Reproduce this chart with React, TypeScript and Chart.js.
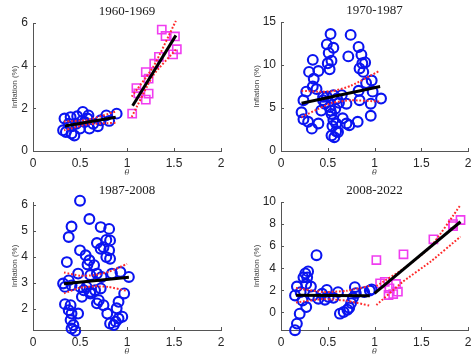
import React, { useEffect, useRef } from "react";
import { Chart, registerables } from "chart.js";
Chart.register(...registerables);

// ---------- shared axis ticks ----------
const xTickValues = [0, 0.5, 1, 1.5, 2];
const xTickLabels = ["0", "0.5", "1", "1.5", "2"];

// ---------- Panel 1: 1960-1969 ----------
const p1Title = "1960-1969";
const p1YTicks = [0, 2, 4, 6];
const p1BlueTheta = [0.335, 0.35, 0.38, 0.41, 0.44, 0.47, 0.5, 0.53, 0.55, 0.58, 0.52, 0.6, 0.64, 0.69, 0.72, 0.78, 0.81, 0.89, 0.4, 0.46, 0.59, 0.32, 0.41];
const p1BlueInfl = [1.52, 0.89, 1.28, 1.16, 0.73, 1.63, 1.05, 1.83, 1.36, 1.52, 1.41, 1.05, 1.28, 1.16, 1.44, 1.67, 1.41, 1.75, 1.59, 1.28, 1.67, 0.97, 0.82];
const p1MagTheta = [1.055, 1.1, 1.12, 1.2, 1.23, 1.23, 1.2, 1.29, 1.34, 1.37, 1.41, 1.51, 1.53, 1.49];
const p1MagInfl = [1.75, 2.95, 2.7, 2.41, 2.69, 3.39, 3.7, 4.09, 4.41, 5.69, 5.39, 5.37, 4.77, 4.53];
const p1BlueFitTheta = [0.34, 0.88];
const p1BlueFit = [1.17, 1.58];
const p1BlueBandTheta = [0.33, 0.58, 0.88];
const p1BlueUpper = [1.38, 1.46, 1.85];
const p1BlueLower = [0.97, 1.25, 1.32];
const p1MagFitTheta = [1.06, 1.52];
const p1MagFit = [2.12, 5.42];
const p1MagBandTheta = [1.05, 1.28, 1.52];
const p1MagUpper = [2.55, 3.95, 6.1];
const p1MagLower = [1.6, 3.55, 4.75];

// ---------- Panel 2: 1970-1987 ----------
const p2Title = "1970-1987";
const p2YTicks = [0, 5, 10, 15];
const p2BlueTheta = [0.53, 0.745, 0.49, 0.56, 0.51, 0.54, 0.5, 0.72, 0.83, 0.86, 0.87, 0.9, 0.84, 0.52, 0.34, 0.3, 0.4, 0.35, 0.34, 0.38, 0.27, 0.24, 0.22, 0.24, 0.29, 0.33, 0.4, 0.43, 0.45, 0.49, 0.56, 0.65, 0.52, 0.54, 0.56, 0.55, 0.59, 0.66, 0.7, 0.73, 0.54, 0.57, 0.59, 0.61, 0.7, 0.84, 0.83, 0.82, 0.96, 0.96, 0.98, 0.97, 1.07, 0.91, 0.88, 0.47, 0.6, 0.53, 0.58, 0.62, 0.45];
const p2BlueInfl = [13.6, 13.5, 12.4, 12.0, 11.4, 10.5, 10.2, 11.0, 12.1, 11.2, 10.2, 10.3, 9.6, 9.5, 10.6, 9.2, 9.3, 8.4, 7.5, 7.2, 6.9, 5.9, 4.5, 3.7, 3.4, 2.6, 3.2, 4.7, 5.9, 6.3, 6.5, 6.5, 5.1, 4.3, 3.6, 2.9, 3.2, 3.8, 3.2, 3.0, 1.8, 1.6, 2.3, 2.2, 5.5, 5.9, 7.0, 3.4, 4.1, 5.5, 6.9, 8.2, 6.1, 7.9, 9.2, 5.5, 6.1, 4.7, 4.9, 5.6, 6.3];
const p2FitTheta = [0.22, 1.06];
const p2Fit = [5.55, 7.5];
const p2BandTheta = [0.22, 0.4, 0.55, 0.75, 1.05];
const p2Upper = [7.0, 6.9, 6.95, 7.6, 9.3];
const p2Lower = [3.95, 4.9, 5.6, 5.9, 5.75];

// ---------- Panel 3: 1987-2008 ----------
const p3Title = "1987-2008";
const p3YTicks = [2, 3, 4, 5, 6];
const p3BlueTheta = [0.5, 0.6, 0.41, 0.38, 0.72, 0.81, 0.78, 0.82, 0.68, 0.75, 0.81, 0.72, 0.78, 0.82, 0.5, 0.56, 0.58, 0.6, 0.65, 0.36, 0.48, 0.61, 0.68, 0.73, 0.84, 0.93, 1.02, 0.32, 0.34, 0.38, 0.41, 0.5, 0.54, 0.57, 0.61, 0.66, 0.72, 0.52, 0.61, 0.7, 0.68, 0.75, 0.97, 0.34, 0.4, 0.38, 0.41, 0.4, 0.43, 0.41, 0.45, 0.48, 0.79, 0.82, 0.88, 0.86, 0.91, 0.95, 0.89, 0.91];
const p3BlueInfl = [6.15, 5.45, 5.16, 4.76, 5.14, 5.07, 4.65, 4.63, 4.53, 4.37, 4.25, 4.31, 3.99, 3.93, 4.25, 4.06, 3.71, 3.87, 3.68, 3.8, 3.36, 3.3, 3.36, 3.23, 3.36, 3.42, 3.23, 2.98, 2.85, 3.1, 2.91, 2.85, 2.72, 2.85, 2.66, 2.72, 2.79, 2.47, 2.6, 2.34, 2.22, 2.15, 2.6, 2.19, 2.15, 1.96, 1.83, 1.58, 1.39, 1.26, 1.17, 1.83, 1.83, 1.45, 1.52, 1.39, 1.64, 1.71, 2.03, 2.28];
const p3FitTheta = [0.33, 1.02];
const p3Fit = [2.97, 3.22];
const p3BandTheta = [0.33, 0.5, 0.65, 0.8, 1.0];
const p3Upper = [3.4, 3.28, 3.3, 3.42, 3.73];
const p3Lower = [2.6, 2.82, 2.87, 2.85, 2.7];

// ---------- Panel 4: 2008-2022 ----------
const p4Title = "2008-2022";
const p4YTicks = [0, 2, 4, 6, 8, 10];
const p4BlueTheta = [0.38, 0.26, 0.28, 0.24, 0.29, 0.27, 0.32, 0.17, 0.15, 0.21, 0.23, 0.27, 0.2, 0.17, 0.15, 0.34, 0.4, 0.44, 0.49, 0.51, 0.56, 0.61, 0.63, 0.67, 0.71, 0.73, 0.75, 0.79, 0.8, 0.77, 0.89, 0.95, 0.47, 0.97];
const p4BlueInfl = [5.18, 3.53, 3.17, 3.17, 3.71, 2.57, 2.34, 2.34, 1.53, 1.83, 1.08, 0.48, -0.12, -1.02, -1.62, 1.53, 1.23, 1.68, 2.04, 1.38, 1.32, 1.83, -0.12, 0.03, 0.24, 0.42, 0.84, 2.28, 1.74, 1.32, 1.83, 1.98, 1.14, 2.08];
const p4MagTheta = [1.02, 1.31, 1.63, 1.84, 1.92, 1.84, 1.11, 1.16, 1.15, 1.2, 1.25, 1.23, 1.06];
const p4MagInfl = [4.74, 5.26, 6.62, 8.0, 8.37, 7.82, 2.77, 2.17, 1.57, 1.66, 1.87, 2.57, 2.63];
const p4BlueFitTheta = [0.16, 0.95];
const p4BlueFit = [1.55, 1.5];
const p4BlueBandTheta = [0.16, 0.45, 0.7, 0.95];
const p4BlueUpper = [2.2, 1.85, 1.95, 2.4];
const p4BlueLower = [0.9, 1.2, 1.05, 0.6];
const p4MagFitTheta = [1.0, 1.92];
const p4MagFit = [1.72, 8.21];
const p4MagBandTheta = [1.02, 1.3, 1.6, 1.92];
const p4MagUpper = [2.38, 3.9, 5.95, 9.73];
const p4MagLower = [0.66, 2.75, 4.6, 6.86];

// ---------- styles ----------
const BLUE = "#0a14f0";
const MAGENTA = "#f03cf0";
const RED = "#ff2a2a";
const AXIS = "#555555";
const TEXT = "#262626";
const CANVAS_W = 500;
const CANVAS_H = 354;

const xy = (xs: number[], ys: number[]) => xs.map((x, i) => ({ x, y: ys[i] }));

const circles = (xs: number[], ys: number[]) => ({
  data: xy(xs, ys),
  pointStyle: "circle",
  pointRadius: 4.9,
  pointBorderWidth: 2.1,
  pointBorderColor: BLUE,
  pointBackgroundColor: "rgba(0,0,0,0)",
  showLine: false,
  order: 2,
});
const squares = (xs: number[], ys: number[]) => ({
  data: xy(xs, ys),
  pointStyle: "rect",
  pointRadius: 5.8,
  pointBorderWidth: 1.6,
  pointBorderColor: MAGENTA,
  pointBackgroundColor: "rgba(0,0,0,0)",
  showLine: false,
  order: 2,
});
const fitLine = (xs: number[], ys: number[]) => ({
  data: xy(xs, ys),
  showLine: true,
  pointRadius: 0,
  borderColor: "#000000",
  borderWidth: 3,
  order: 0,
});
const band = (xs: number[], ys: number[]) => ({
  data: xy(xs, ys),
  showLine: true,
  pointRadius: 0,
  borderColor: RED,
  borderWidth: 2,
  borderDash: [1.8, 1.8],
  tension: 0.2,
  order: 1,
});

const panelDecor = {
  id: "panelDecor",
  afterDraw(chart: any, _args: any, opts: any) {
    const { ctx, chartArea } = chart;
    const xs = chart.scales.x;
    const ys = chart.scales.y;
    ctx.save();
    ctx.strokeStyle = AXIS;
    ctx.lineWidth = 1;
    ctx.beginPath();
    xs.ticks.forEach((t: any) => {
      const px = Math.round(xs.getPixelForValue(t.value)) + 0.5;
      ctx.moveTo(px, chartArea.bottom);
      ctx.lineTo(px, chartArea.bottom - 3);
    });
    ys.ticks.forEach((t: any) => {
      const py = Math.round(ys.getPixelForValue(t.value)) + 0.5;
      ctx.moveTo(chartArea.left, py);
      ctx.lineTo(chartArea.left + 3, py);
    });
    ctx.stroke();
    ctx.fillStyle = "#1a1a1a";
    ctx.font = '13px "Liberation Serif", "Times New Roman", serif';
    ctx.textAlign = "center";
    ctx.textBaseline = "middle";
    ctx.fillText(opts.title, (chartArea.left + chartArea.right) / 2, chartArea.top - 11);
    ctx.restore();
  },
};

type PanelDef = {
  title: string;
  area: { left: number; right: number; top: number; bottom: number };
  yWidth: number;
  yMin: number;
  yMax: number;
  yTicks: number[];
  datasets: any[];
};

const X_H = 27;

const panels: PanelDef[] = [
  {
    title: p1Title,
    area: { left: 33, right: 221, top: 23, bottom: 151 },
    yWidth: 23,
    yMin: 0,
    yMax: 6,
    yTicks: p1YTicks,
    datasets: [
      fitLine(p1BlueFitTheta, p1BlueFit),
      fitLine(p1MagFitTheta, p1MagFit),
      band(p1BlueBandTheta, p1BlueUpper),
      band(p1BlueBandTheta, p1BlueLower),
      band(p1MagBandTheta, p1MagUpper),
      band(p1MagBandTheta, p1MagLower),
      circles(p1BlueTheta, p1BlueInfl),
      squares(p1MagTheta, p1MagInfl),
    ],
  },
  {
    title: p2Title,
    area: { left: 281, right: 468, top: 22, bottom: 151 },
    yWidth: 29,
    yMin: 0,
    yMax: 15,
    yTicks: p2YTicks,
    datasets: [
      fitLine(p2FitTheta, p2Fit),
      band(p2BandTheta, p2Upper),
      band(p2BandTheta, p2Lower),
      circles(p2BlueTheta, p2BlueInfl),
    ],
  },
  {
    title: p3Title,
    area: { left: 33, right: 221, top: 202, bottom: 330 },
    yWidth: 23,
    yMin: 1.2,
    yMax: 6.1,
    yTicks: p3YTicks,
    datasets: [
      fitLine(p3FitTheta, p3Fit),
      band(p3BandTheta, p3Upper),
      band(p3BandTheta, p3Lower),
      circles(p3BlueTheta, p3BlueInfl),
    ],
  },
  {
    title: p4Title,
    area: { left: 281, right: 468, top: 202, bottom: 330 },
    yWidth: 29,
    yMin: -1.6,
    yMax: 10,
    yTicks: p4YTicks,
    datasets: [
      fitLine(p4BlueFitTheta, p4BlueFit),
      fitLine(p4MagFitTheta, p4MagFit),
      band(p4BlueBandTheta, p4BlueUpper),
      band(p4BlueBandTheta, p4BlueLower),
      band(p4MagBandTheta, p4MagUpper),
      band(p4MagBandTheta, p4MagLower),
      circles(p4BlueTheta, p4BlueInfl),
      squares(p4MagTheta, p4MagInfl),
    ],
  },
];

function makeConfig(p: PanelDef): any {
  const tickFont = { family: '"Liberation Sans", Arial, sans-serif', size: 12 };
  return {
    type: "scatter",
    data: { datasets: p.datasets },
    plugins: [panelDecor],
    options: {
      animation: false,
      responsive: false,
      maintainAspectRatio: false,
      events: [],
      layout: {
        padding: {
          left: p.area.left - p.yWidth,
          right: CANVAS_W - p.area.right,
          top: p.area.top,
          bottom: CANVAS_H - p.area.bottom - X_H,
        },
      },
      elements: { line: { fill: false } },
      datasets: { scatter: { clip: false } },
      plugins: {
        legend: { display: false },
        tooltip: { enabled: false },
        title: { display: false },
        panelDecor: { title: p.title },
      },
      scales: {
        x: {
          type: "linear",
          min: 0,
          max: 2,
          afterBuildTicks: (s: any) => {
            s.ticks = xTickValues.map((v) => ({ value: v }));
          },
          afterFit: (s: any) => {
            s.height = X_H;
          },
          grid: { display: false, drawTicks: false },
          border: { display: true, color: AXIS, width: 1 },
          ticks: {
            color: TEXT,
            font: tickFont,
            padding: 5,
            autoSkip: false,
            maxRotation: 0,
            callback: (v: any) => {
              const i = xTickValues.indexOf(Number(v));
              return i >= 0 ? xTickLabels[i] : String(v);
            },
          },
          title: {
            display: true,
            text: "θ",
            color: "#444444",
            font: { family: '"DejaVu Serif", serif', size: 8, style: "italic" },
            padding: 0,
          },
        },
        y: {
          type: "linear",
          min: p.yMin,
          max: p.yMax,
          afterBuildTicks: (s: any) => {
            s.ticks = p.yTicks.map((v) => ({ value: v }));
          },
          afterFit: (s: any) => {
            s.width = p.yWidth;
          },
          grid: { display: false, drawTicks: false },
          border: { display: true, color: AXIS, width: 1 },
          ticks: { color: TEXT, font: tickFont, padding: 5, autoSkip: false, callback: (v: any) => String(v) },
          title: {
            display: true,
            text: "Inflation (%)",
            color: "#444444",
            font: { family: '"Liberation Sans", Arial, sans-serif', size: 8 },
            padding: 0,
          },
        },
      },
    },
  };
}

export default function App() {
  const refs = [useRef<HTMLCanvasElement>(null), useRef<HTMLCanvasElement>(null), useRef<HTMLCanvasElement>(null), useRef<HTMLCanvasElement>(null)];
  useEffect(() => {
    const charts = panels.map((p, i) => new Chart(refs[i].current as HTMLCanvasElement, makeConfig(p)));
    return () => charts.forEach((c) => c.destroy());
  }, []);
  return (
    <div style={{ position: "fixed", left: 0, top: 0, width: 471, height: 354, overflow: "hidden", background: "#ffffff" }}>
      {refs.map((r, i) => (
        <canvas
          key={i}
          ref={r}
          width={CANVAS_W}
          height={CANVAS_H}
          style={{ position: "absolute", left: 0, top: 0, width: CANVAS_W, height: CANVAS_H }}
        />
      ))}
    </div>
  );
}
